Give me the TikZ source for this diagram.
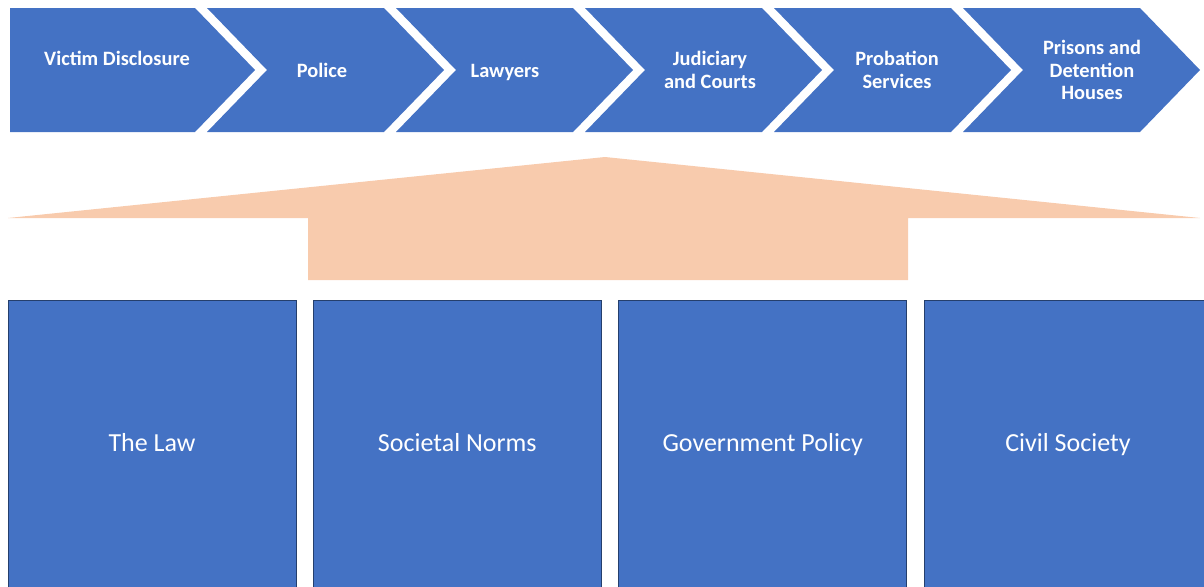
\documentclass[tikz,border=0pt]{standalone}
\usepackage{fontspec}
\setmainfont{Carlito}
\usetikzlibrary{positioning}
\definecolor{stageblue}{HTML}{4472C4}
\definecolor{supportorange}{HTML}{F8CBAD}

\begin{document}
\begin{tikzpicture}[
            x=0.025cm, y=-0.025cm,
            node distance=0.41cm,
            stage/.style={
                    font=\fontsize{14.5}{16}\selectfont\bfseries,
                    text=white,
                    align=center
                },
            chevron/.style={
                    fill=stageblue
                },
            pillar/.style={
                    rectangle,
                    fill=stageblue,
                    draw=stageblue!55!black,
                    line width=0.6pt,
                    minimum width=7.2cm,
                    minimum height=7.25cm,
                    inner sep=0pt,
                    text height=13pt,
                    text depth=4pt,
                    text=white,
                    font=\fontsize{18.5}{21}\selectfont
                },
            support/.style={
                    fill=supportorange
                }
            ]
            \useasboundingbox (0,0) rectangle (1204,586);
            \clip (0,0) rectangle (1204,586);

            % Chevron process
            \fill [chevron] (10,8) -- (195,8) -- (255,70) -- (195,132) -- (10,132) -- cycle;
            \foreach \k in {1,...,5} {
                \pgfmathsetmacro{\tip}{255+189*\k}
                \pgfmathsetmacro{\back}{\tip-189+12}
                \fill [chevron] ({\back-60},8) -- ({\tip-60},8) -- (\tip,70)
                    -- ({\tip-60},132) -- ({\back-60},132) -- (\back,70) -- cycle;
            }

            \node (disclosure) [stage] at (117,58) {Victim Disclosure};
            \node (police) [stage] at (322,70) {Police};
            \node (lawyers) [stage] at (505,72) {Lawyers};
            \node (courts) [stage] at (710,70) {Judiciary\\and Courts};
            \node (probation) [stage] at (897,70) {Probation\\Services};
            \node (prisons) [stage] at (1092,70) {Prisons and\\Detention\\Houses};

            % Supporting arrow
            \fill [support] (605,157) -- (1200,218) -- (908,218) -- (908,280)
                -- (308,280) -- (308,218) -- (8,218) -- cycle;

            % Pillars
            \node (law) [pillar] at (152,445) {The Law};
            \node (norms) [pillar, right=of law] {Societal Norms};
            \node (policy) [pillar, right=of norms] {Government Policy};
            \node (society) [pillar, right=of policy] {Civil Society};

        \end{tikzpicture}
\end{document}
